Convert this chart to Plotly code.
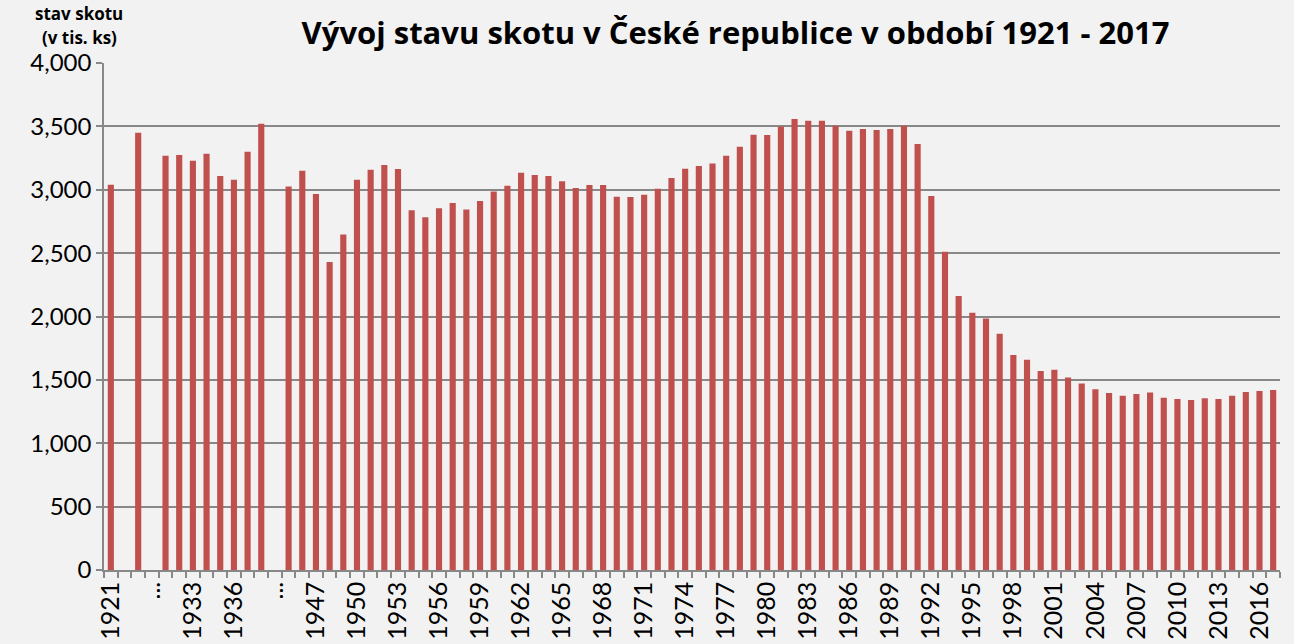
import plotly.graph_objects as go

# Category labels (gaps in the series are shown as empty slots)
periods = ["1921", "gap-a", "1925", "...", "1931", "1932", "1933", "1934", "1935",
           "1936", "1937", "1938", "... "] + [str(y) for y in range(1945, 2018)]

# Cattle stock in thousands of head
values_early = [3040, None, 3450, None,
                3268, 3274, 3229, 3284, 3108, 3079, 3300, 3521, None]
values_1945_1969 = [3026, 3150, 2966, 2429, 2647, 3079, 3158, 3195, 3163, 2839,
                    2784, 2855, 2895, 2845, 2911, 2987, 3032, 3134, 3116, 3108,
                    3068, 3013, 3037, 3037, 2945]
values_1970_1994 = [2942, 2960, 3008, 3092, 3166, 3187, 3208, 3268, 3339, 3434,
                    3432, 3500, 3558, 3545, 3545, 3505, 3466, 3479, 3471, 3479,
                    3505, 3360, 2950, 2510, 2162]
values_1995_2017 = [2029, 1984, 1863, 1697, 1658, 1571, 1579, 1518, 1471, 1426,
                    1397, 1374, 1389, 1400, 1358, 1350, 1342, 1355, 1350, 1374,
                    1405, 1413, 1421]
values = values_early + values_1945_1969 + values_1970_1994 + values_1995_2017

tick_text = [p.strip() if (i % 3 == 0) else "" for i, p in enumerate(periods)]

title_text = "Vývoj stavu skotu v České republice v období 1921 - 2017"
ytitle_lines = ["stav skotu", "(v tis. ks)"]

BG = "#F2F2F2"
BAR = "#C0504D"
GRID = "#888888"

fig = go.Figure()
fig.add_trace(go.Bar(x=periods, y=values, marker=dict(color=BAR, line=dict(width=0)),
                     hoverinfo="x+y"))

fig.update_layout(
    width=1294, height=644,
    paper_bgcolor=BG, plot_bgcolor=BG,
    margin=dict(l=104, r=14, t=63, b=74, autoexpand=False),
    bargap=0.55,
    showlegend=False,
    font=dict(family="Lato", color="black"),
    title=dict(text=f"<b>{title_text}</b>", x=0.537, xref="paper", xanchor="center",
               y=1 - 33 / 644, yref="container", yanchor="middle",
               font=dict(family="Open Sans", size=31, color="black")),
)

fig.update_xaxes(
    type="category", tickmode="array", tickvals=periods, ticktext=tick_text,
    tickangle=-90, tickson="boundaries", ticks="outside", ticklen=6, tickcolor=GRID,
    tickwidth=1.5, showline=True, linecolor=GRID, linewidth=1.5, showgrid=False,
    tickfont=dict(family="Lato", size=25, color="black"),
)
fig.update_yaxes(
    range=[0, 4000], dtick=500, tickformat=",", ticks="outside", ticklen=6,
    tickcolor=GRID, tickwidth=1.5, showline=True, linecolor=GRID, linewidth=1.5,
    showgrid=True, gridcolor=GRID, gridwidth=1.5, zeroline=False,
    tickfont=dict(family="Lato", size=24, color="black"),
)

for txt, ypx in zip(ytitle_lines, [14, 38]):
    fig.add_annotation(text=f"<b>{txt}</b>", xref="paper", yref="paper",
                       x=(79 - 104) / 1176, y=(570 - ypx) / 507,
                       xanchor="center", yanchor="middle", showarrow=False,
                       font=dict(family="Open Sans", size=17, color="black"))

fig.write_html("out.html", config={"displayModeBar": False},
               post_script="document.body.style.margin='0';"
                           "document.body.style.background='#F2F2F2';")
